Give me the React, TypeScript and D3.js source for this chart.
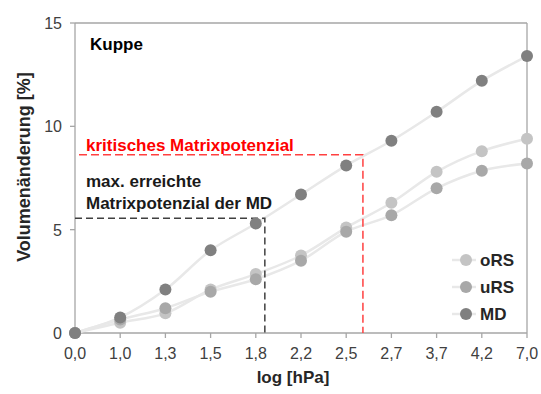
import React from "react";
import { scalePoint, scaleLinear, line, curveCatmullRom } from "d3";

const width = 541;
const height = 394;

const margin = { left: 75, right: 14, top: 23, bottom: 61 };

// x categories (log hPa)
const categories = ["0,0", "1,0", "1,3", "1,5", "1,8", "2,2", "2,5", "2,7", "3,7", "4,2", "7,0"];

// Volumenänderung [%]
const oRS = [0, 0.5, 0.95, 2.1, 2.85, 3.75, 5.1, 6.3, 7.8, 8.8, 9.4];
const uRS = [0, 0.65, 1.2, 2.0, 2.6, 3.5, 4.9, 5.7, 7.0, 7.85, 8.2];
const MD = [0, 0.75, 2.1, 4.0, 5.3, 6.7, 8.1, 9.3, 10.7, 12.2, 13.4];

const seriesNames = ["oRS", "uRS", "MD"];
const seriesValues = [oRS, uRS, MD];
const seriesColors = ["#c4c4c4", "#a8a8a8", "#808080"];

const yTicks = [0, 5, 10, 15];

// dashed markers: value and position (index along the categories)
const criticalValue = 8.63;
const criticalIndex = 6.37;
const mdMaxValue = 5.55;
const mdMaxIndex = 4.2;

const font = "'Liberation Sans', Arial, sans-serif";

const x = scalePoint<string>()
  .domain(categories)
  .range([margin.left, width - margin.right])
  .padding(0);

const y = scaleLinear()
  .domain([0, 15])
  .range([height - margin.bottom, margin.top]);

const step = x.step();
const xAt = (idx: number) => margin.left + idx * step;

const lineGen = line<number>()
  .x((_, i) => x(categories[i]) as number)
  .y((d) => y(d))
  .curve(curveCatmullRom.alpha(0.5));

const App = () => {
  const x0 = margin.left;
  const x1 = width - margin.right;
  const yBottom = y(0);
  const yTop = y(15);
  const axisColor = "#a6a6a6";

  return (
    <div style={{ position: "absolute", left: 0, top: 0 }}>
      <svg width={width} height={height} style={{ display: "block", background: "white" }}>
        {/* frame */}
        <line x1={x0} y1={yTop} x2={x1} y2={yTop} stroke={axisColor} strokeWidth={1.3} />
        <line x1={x1} y1={yTop} x2={x1} y2={yBottom} stroke={axisColor} strokeWidth={1.3} />
        <line x1={x0} y1={yTop} x2={x0} y2={yBottom} stroke={axisColor} strokeWidth={1.3} />
        <line x1={x0} y1={yBottom} x2={x1} y2={yBottom} stroke={axisColor} strokeWidth={1.3} />

        {/* y ticks */}
        {yTicks.map((t) => (
          <g key={t}>
            <line x1={x0 - 5} x2={x0} y1={y(t)} y2={y(t)} stroke={axisColor} strokeWidth={1.3} />
            <text x={62} y={y(t) + 6} textAnchor="end" fontFamily={font} fontSize={16} fill="#404040">
              {t}
            </text>
          </g>
        ))}

        {/* x ticks */}
        {categories.map((c) => (
          <g key={c}>
            <line x1={x(c)} x2={x(c)} y1={yBottom} y2={yBottom + 5} stroke={axisColor} strokeWidth={1.3} />
            <text x={x(c)} y={359} textAnchor="middle" fontFamily={font} fontSize={16} fill="#404040">
              {c}
            </text>
          </g>
        ))}

        {/* axis titles */}
        <text x={293} y={383} textAnchor="middle" fontFamily={font} fontSize={17} fontWeight="bold" fill="#262626">
          log [hPa]
        </text>
        <text
          transform={`translate(30,167) rotate(-90)`}
          textAnchor="middle"
          fontFamily={font}
          fontSize={18}
          fontWeight="bold"
          fill="#262626"
        >
          Volumenänderung [%]
        </text>

        {/* series lines */}
        {seriesValues.map((vals, i) => (
          <path key={"l" + i} d={lineGen(vals) || ""} fill="none" stroke="#e8e8e8" strokeWidth={2.5} />
        ))}

        {/* dashed markers */}
        <path
          d={`M${x0 + 4},${y(criticalValue)}H${xAt(criticalIndex)}V${yBottom}`}
          fill="none"
          stroke="#ff4040"
          strokeWidth={1.5}
          strokeDasharray="8,4"
        />
        <path
          d={`M${x0},${y(mdMaxValue)}H${xAt(mdMaxIndex)}V${yBottom}`}
          fill="none"
          stroke="#404040"
          strokeWidth={1.5}
          strokeDasharray="7,4"
        />

        {/* points */}
        {seriesValues.map((vals, i) =>
          vals.map((v, j) => (
            <circle key={`p${i}-${j}`} cx={x(categories[j])} cy={y(v)} r={6} fill={seriesColors[i]} />
          ))
        )}

        {/* annotations */}
        <text x={90} y={50} fontFamily={font} fontSize={17} fontWeight="bold" fill="#000">
          Kuppe
        </text>
        <text x={86} y={151} fontFamily={font} fontSize={17} fontWeight="bold" fill="#ff0000">
          kritisches Matrixpotenzial
        </text>
        <text x={86} y={187} fontFamily={font} fontSize={17} fontWeight="bold" fill="#1a1a1a">
          max. erreichte
        </text>
        <text x={86} y={209} fontFamily={font} fontSize={17} fontWeight="bold" fill="#1a1a1a">
          Matrixpotenzial der MD
        </text>

        {/* legend */}
        {seriesNames.map((name, i) => {
          const ly = 260 + i * 27;
          return (
            <g key={name}>
              <line x1={452} x2={476} y1={ly} y2={ly} stroke="#e8e8e8" strokeWidth={2.5} />
              <circle cx={466} cy={ly} r={6} fill={seriesColors[i]} />
              <text x={480} y={ly + 6} fontFamily={font} fontSize={17} fontWeight="bold" fill="#262626">
                {name}
              </text>
            </g>
          );
        })}
      </svg>
    </div>
  );
};

export default App;
